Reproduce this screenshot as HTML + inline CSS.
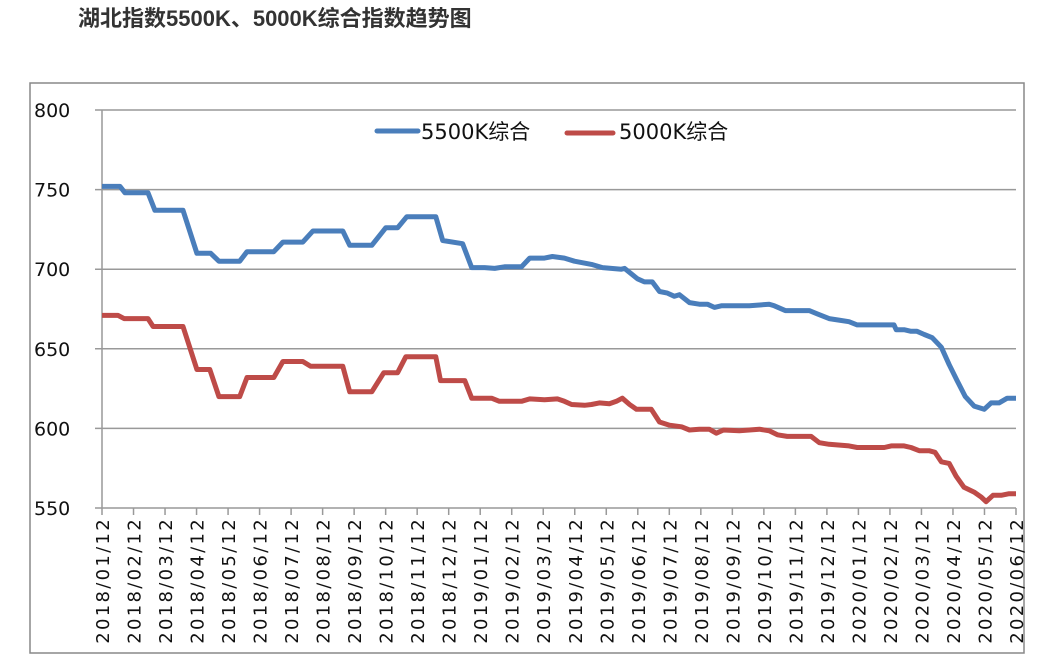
<!DOCTYPE html>
<html><head><meta charset="utf-8"><style>
body{margin:0;background:#fff;width:1063px;height:670px;overflow:hidden;font-family:"Liberation Sans","Noto Sans CJK SC",sans-serif}
</style></head><body>
<svg width="1063" height="670" style="position:absolute;left:0;top:0">
<text x="78" y="26" font-size="22" font-weight="bold" fill="#333" font-family="Liberation Sans, Noto Sans CJK SC, sans-serif">湖北指数5500K、5000K综合指数趋势图</text>
<rect x="30" y="83" width="994" height="570" fill="none" stroke="#888" stroke-width="1.5"/>
<g id="grid"></g><g id="axes"></g><g id="series"></g>
<g font-family="DejaVu Sans, Noto Sans CJK SC, sans-serif">
<line x1="377" y1="131" x2="418" y2="131" stroke="#4a7ebb" stroke-width="5" stroke-linecap="round"/>
<text x="421" y="139" font-size="21" fill="#111">5500K综合</text>
<line x1="567" y1="133" x2="613" y2="133" stroke="#be4b48" stroke-width="5" stroke-linecap="round"/>
<text x="619" y="139" font-size="21" fill="#111">5000K综合</text>
</g>
</svg>
<script>
const categories=["2018/01/12","2018/02/12","2018/03/12","2018/04/12","2018/05/12","2018/06/12","2018/07/12","2018/08/12","2018/09/12","2018/10/12","2018/11/12","2018/12/12","2019/01/12","2019/02/12","2019/03/12","2019/04/12","2019/05/12","2019/06/12","2019/07/12","2019/08/12","2019/09/12","2019/10/12","2019/11/12","2019/12/12","2020/01/12","2020/02/12","2020/03/12","2020/04/12","2020/05/12","2020/06/12"];
const yTicks=[550,600,650,700,750,800];
const t5500=[0,0.57,0.73,1.46,1.68,2.57,3.01,3.45,3.71,4.37,4.60,5.45,5.74,6.37,6.69,7.64,7.86,8.56,9.00,9.38,9.67,10.59,10.81,11.44,11.73,12.14,12.46,12.77,13.31,13.57,14.04,14.29,14.67,14.99,15.53,15.88,16.48,16.58,16.99,17.21,17.46,17.69,17.94,18.16,18.32,18.64,18.95,19.21,19.43,19.65,20.54,21.17,21.33,21.68,22.44,22.69,23.07,23.38,23.70,23.96,24.82,25.13,25.20,25.45,25.67,25.86,26.09,26.34,26.63,26.88,27.13,27.39,27.67,27.99,28.21,28.46,28.72,29];
const v5500=[752,752,748,748,737,737,710,710,705,705,711,711,717,717,724,724,715,715,726,726,733,733,718,716,701,701,700.5,701.5,701.5,707,707,708,707,705,703,701,700,700.5,694,692,692,686,685,683,684,679,678,678,676,677,677,678,677,674,674,672,669,668,667,665,665,665,662,662,661,661,659,657,651,640,630,620,614,612,616,616,619,619];
const t5000=[0,0.51,0.70,1.46,1.62,2.57,3.01,3.42,3.71,4.37,4.60,5.45,5.74,6.37,6.62,7.64,7.86,8.56,8.94,9.38,9.64,10.59,10.74,11.51,11.73,12.36,12.61,13.31,13.57,14.04,14.45,14.67,14.90,15.31,15.53,15.78,16.10,16.32,16.51,16.74,16.96,17.43,17.69,18.01,18.39,18.64,18.95,19.27,19.49,19.72,20.22,20.86,21.17,21.43,21.74,22.12,22.50,22.76,23.07,23.70,23.96,24.82,25.04,25.45,25.67,25.93,26.24,26.43,26.63,26.88,27.10,27.35,27.67,27.89,28.05,28.27,28.53,28.78,29];
const v5000=[671,671,669,669,664,664,637,637,620,620,632,632,642,642,639,639,623,623,635,635,645,645,630,630,619,619,617,617,618.5,618,618.5,617,615,614.5,615,616,615.5,617,619,615,612,612,604,602,601,599,599.5,599.5,597,599,598.5,599.5,598.5,596,595,595,595,591,590,589,588,588,589,589,588,586,586,585,579,578,570,563,560,557,554,558,558,559,559];
const NS="http://www.w3.org/2000/svg";
const X0=102,X1=1016,Y0=508,Y1=110;
const x=i=>X0+(X1-X0)*i/(categories.length-1);
const y=v=>Y0-(v-550)/(800-550)*(Y0-Y1);
function mk(tag,attrs,parent){const e=document.createElementNS(NS,tag);for(const k in attrs)e.setAttribute(k,attrs[k]);document.getElementById(parent).appendChild(e);return e;}
yTicks.forEach(v=>{
 const l=mk('line',{x1:X0-7,x2:X1,y1:y(v),y2:y(v),stroke:'#999','stroke-width':1.5},'grid');
 
 
 const t=mk('text',{x:34,y:y(v)+7,'font-size':19,fill:'#111','font-family':'DejaVu Sans, sans-serif'},'axes');
 t.textContent=v;
 
 
});
const ya=mk('line',{x1:X0,x2:X0,y1:Y1,y2:Y0,stroke:'#999','stroke-width':1.5},'axes');


categories.forEach((c,i)=>{
 const tk=mk('line',{x1:x(i),x2:x(i),y1:Y0,y2:Y0+7,stroke:'#999','stroke-width':1.5},'axes');
 
 
 const t=mk('text',{x:0,y:0,'font-size':18,fill:'#111','text-anchor':'end','letter-spacing':'2.3','font-family':'DejaVu Sans, sans-serif',transform:`translate(${x(i)+7},517) rotate(-90)`},'axes');
 t.textContent=c;
 
 
});
function line(ts,vs,color,name){
 const d=ts.map((t,k)=>(k?'L':'M')+x(t).toFixed(1)+','+y(vs[k]).toFixed(1)).join('');
 const p=mk('path',{d:d,fill:'none',stroke:color,'stroke-width':5,'stroke-linejoin':'round'},'series');
 
 
}
line(t5500,v5500,'#4a7ebb','line-5500k');
line(t5000,v5000,'#be4b48','line-5000k');
</script>
</body></html>
